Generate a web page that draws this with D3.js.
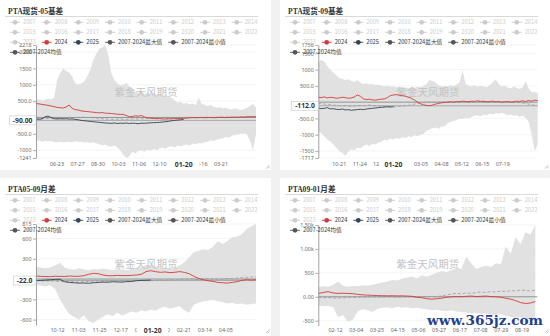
<!DOCTYPE html>
<html><head><meta charset="utf-8">
<script src="https://cdn.jsdelivr.net/npm/d3@7"></script>
<style>
html,body{margin:0;padding:0;background:#f1f1f1;}
svg{display:block}
text{font-family:"Noto Sans","Noto Sans CJK SC",sans-serif;}
</style></head><body>
<svg id="c" width="550" height="336"></svg>
<script>
// ---------- shared legend ----------
const legendYears = ["2007","2008","2009","2010","2011","2012","2013","2014","2015","2016","2017","2018","2019","2020","2021","2022","2023"];
const legendActive = ["2024","2025","2007-2024最大值","2007-2024最小值","2007-2024均值"];
const STEP = 5; // days between stored points

// ---------- panel 1 : PTA现货-05基差 ----------
const p1Title = "PTA现货-05基差";
const p1Start = "2023-05-20", p1Days = 366;
const p1XTicks = ["06-23","07-27","08-30","10-03","11-06","12-10","01-13","02-16","03-21"];
const p1YTicks = [2218,2000,1500,1000,500,-500,-1000,-1241];
const p1YLabels = ["2218","2000","1500","1000","500.0","-500.0","-1000","-1241"];
const p1YDomain = [-1241,2218];
const p1PointerX = "01-20", p1PointerY = -90, p1PointerYLabel = "-90.00";
const p1Max = [550,560,520,540,580,560,600,1150,1350,1500, 1420,1380,1250,1050,1000,1050,1100,1250,1450,1750, 1950,2100,2150,2218,1900,1350,1150,1050,980,1000, 1060,950,820,780,750,800,720,760,700,740, 680,720,650,700,620,600,520,450,480,420, 440,400,430,380,600,420,380,350,380,330, 300,320,280,300,260,240,280,250,230,260, 300,350,420,300];
const p1Min = [-720,-700,-740,-710,-730,-720,-750, -760,-740,-770,-750,-740,-760,-730, -750,-740,-770,-760,-780,-750,-790, -820,-850,-830,-880,-900,-860,-920, -1000,-1150,-1241,-1180,-1050,-1100,-1020, -1000,-1050,-980,-1020,-960,-1000,-940, -920,-960,-900,-880,-920,-860,-880, -850,-830,-860,-800,-820,-780,-800, -760,-740,-700,-720,-680,-650,-640, -600,-620,-560,-540,-520,-500,-480, -520,-700,-1000,-500];
const p1Y2024 = [430,415,400,385,370,350,330,310,300,290, 320,380,280,240,230,200,190,180,170,160, 150,140,150,130,130,120,110,100,95,90, 60,20,30,50,40,60,10,-10,-20,-30, -40,-35,-45,-50,-40,-45,-30,-35,-30,-25, -20,-10,-5,-10,-5,0,-10,-5,0,-10, -5,5,0,-5,5,0,10,5,15,10, 20,25,20,25];
const p1Y2025 = [-50,-55,-45,20,40,0,-40,-45,-40,-45, -40,-50,-45,-60,-70,-90,-100,-110,-120,-130, -140,-150,-160,-170,-175,-180,-170,-185,-175,-180, -170,-185,-175,-180,-190,-175,-180,-170,-165,-160, -155,-150,-140,-130,-120,-100,-90,-80,-70,-60];
const p1Mean = [-40,-35,-30,-35,-30,-25,-20,-30,-25,-20, -10,-15,-20,-10,-5,0,5,0,-5,-10, -20,-30,-40,-50,-45,-55,-60,-50,-45,-60, -55,-50,-45,-40,-50,-45,-40,-35,-30,-35, -30,-25,-20,-25,-30,-20,-15,-20,-10,-15, -5,-10,0,-5,5,0,10,5,0,5, 10,5,10,15,10,20,15,10,15,20, 25,20,15,20];

// ---------- panel 2 : PTA现货-09基差 ----------
const p2Title = "PTA现货-09基差";
const p2Start = "2023-09-17", p2Days = 366;
const p2XTicks = ["10-21","11-24","12-28","01-31","03-05","04-08","05-12","06-15","07-19"];
const p2YTicks = [1756,1500,1000,500,-500,-1000,-1500,-1717];
const p2YLabels = ["1756","1500","1000","500.0","-500.0","-1000","-1500","-1717"];
const p2YDomain = [-1717,1756];
const p2PointerX = "01-20", p2PointerY = -112, p2PointerYLabel = "-112.0";
const p2Max = [1200,1300,1250,1100,1000,900,820,740,720,680, 700,650,620,680,600,560,580,540,560,520, 540,500,480,510,470,490,450,480,440,460, 430,470,440,480,460,500,560,680,650,600, 520,480,500,470,520,490,540,600,980,560, 500,480,520,470,500,480,460,520,600,700, 560,480,500,450,420,480,440,400,460,650, 420,300,320,280];
const p2Min = [-900,-950,-1050,-1150,-1200,-1300,-1400,-1500,-1560,-1650, -1520,-1450,-1480,-1400,-1420,-1350,-1300,-1350,-1280,-1300, -1250,-1220,-1150,-1180,-1120,-1150,-1100,-1130,-1080,-1100, -1050,-1080,-1020,-1050,-1000,-980,-880,-850,-800,-780, -820,-760,-740,-650,-600,-580,-560,-500,-520,-480, -500,-460,-420,-400,-440,-380,-400,-360,-380,-340, -360,-330,-360,-400,-380,-420,-400,-450,-420,-480, -600,-1000,-1500,-1300];
const p2Y2024 = [150,140,160,130,150,140,120,130,150,140, 120,130,160,220,180,100,80,90,70,60, 80,90,100,140,200,220,230,210,200,180, 150,120,60,0,-50,-80,-100,-110,-90,-60, -40,-20,-10,0,10,-5,20,10,30,20, 10,30,20,40,20,30,10,20,30,10, 20,0,10,20,0,10,30,20,40,20, 50,30,60,50];
const p2Y2025 = [-180,-200,-190,-170,-210,-200,-220,-230,-210,-240,-230,-250,-240,-230,-220,-230,-210,-200,-190,-180,-170,-160,-150,-140,-150,-140];
const p2Mean = [-40,-50,-60,-70,-80,-90,-100,-110,-120,-110, -120,-130,-120,-110,-100,-110,-100,-90,-100,-110, -120,-130,-140,-150,-140,-150,-140,-130,-120,-110, -100,-80,-60,-40,-30,-20,-10,0,0,-10, 0,10,0,-5,0,5,0,10,0,5, 0,-5,0,5,10,0,5,0,-5,0, 5,0,-10,0,-5,-10,-20,-15,-30,-40, -60,-80,-100,-90];

// ---------- panel 3 : PTA05-09月差 ----------
const p3Title = "PTA05-09月差";
const p3Start = "2023-09-20", p3Days = 231;
const p3XTicks = ["10-12","11-03","11-25","12-17","01-08","01-30","02-21","03-14","04-05"];
const p3YTicks = [815,600,300,-300,-600];
const p3YLabels = ["815","600","300","-300","-600"];
const p3YDomain = [-680,815];
const p3PointerX = "01-20", p3PointerY = -22, p3PointerYLabel = "-22.0";
const p3Max = [180,170,160,175,200,240,170,150,140,160, 145,130,150,140,155,145,130,150,140,130, 150,160,170,210,200,180,160,170,150,170, 200,250,320,400,420,440,430,480,560,520, 560,620,630,660,740,780,815];
const p3Min = [-80,-100,-110,-90,-150,-300,-420,-520,-560,-600, -540,-620,-650,-600,-560,-520,-550,-500,-540,-510, -480,-500,-460,-480,-450,-470,-430,-410,-440,-420, -400,-460,-500,-380,-350,-330,-320,-310,-330,-340, -360,-350,-370,-360,-380,-370,-360];
const p3Y2024 = [45,40,38,35,42,40,38,45,40,42, 50,70,85,80,60,50,48,55,50,52, 55,60,70,110,124,110,100,105,95,100, 110,100,80,40,10,-10,-25,-35,-50,-55, -60,-50,-40,-20,-10,-15,-10];
const p3Y2025 = [-24,-20,-15,-10,-5,-3,-40,-50,-55,-60,-58,-62,-55,-50,-45,-47,-40,-42,-45,-38,-35,-25,-20,-18,-15];
const p3Mean = [-20,-25,-30,-25,-30,-35,-40,-35,-40,-45, -40,-35,-40,-30,-35,-30,-25,-30,-25,-20, -25,-20,-15,-20,-25,-20,-15,-20,-10,-15, -5,0,5,0,-5,0,5,0,-5,0, 10,5,15,20,25,30,35];

// ---------- panel 4 : PTA09-01月差 ----------
const p4Title = "PTA09-01月差";
const p4Start = "2024-01-26", p4Days = 223;
const p4XTicks = ["02-12","03-04","03-25","04-15","05-06","05-27","06-17","07-08","07-29","08-19"];
const p4YTicks = [1500,1000,500,0,-500];
const p4YLabels = ["1.50k","1.00k","500","0.00","-500"];
const p4YDomain = [-600,1500];
const p4PointerX = null, p4PointerY = null, p4PointerYLabel = null;
const p4Max = [200,220,210,250,320,230,210,230,220,240, 230,250,280,300,320,350,340,380,400,430, 380,450,420,460,500,540,520,560,600,580, 840,700,580,620,650,620,700,680,1050,900, 1250,1100,1350,1300,1500];
const p4Min = [-180,-200,-190,-220,-420,-380,-520,-480,-300,-260, -280,-320,-250,-230,-220,-240,-210,-230,-220,-240, -230,-250,-260,-280,-270,-290,-300,-280,-310,-320, -330,-350,-340,-360,-350,-370,-380,-360,-400,-420, -440,-430,-480,-460,-500];
const p4Y2024 = [70,90,107,80,70,75,70,65,50,40, 35,30,25,22,20,22,18,20,15,10, -10,-20,-40,-50,-40,-30,-10,0,5,0, 10,15,5,10,15,5,0,-10,-30,-50, -80,-120,-140,-130,-100];
const p4Y2025 = [];
const p4Mean = [-10,-20,-15,-25,-30,-20,-15,-10,-15,-5, -10,0,-5,0,5,0,-5,0,5,0, -5,0,5,10,0,20,40,60,70,60, 80,70,90,100,90,110,100,120,110,130, 120,140,130,120,140];

const watermark = "紫金天风期货";
const siteMark = "www.365jz.com";

// ---------- colours ----------
const C2024 = "#d23a3a", C2025 = "#2f4554", CGREY = "#555", CBAND = "#e1e1e1", CINACT = "#cccccc";

const panels = [
 {title:p1Title,start:p1Start,days:p1Days,xt:p1XTicks,yt:p1YTicks,yl:p1YLabels,yd:p1YDomain,px:p1PointerX,py:p1PointerY,pyl:p1PointerYLabel,max:p1Max,min:p1Min,a:p1Y2024,b:p1Y2025,mean:p1Mean,
  L:{ox:0,oy:0,w:271,h:170,x0:36,x1:256,y0:45,y1:158,xl:166,wmY:93,pb:[15,15.5]}},
 {title:p2Title,start:p2Start,days:p2Days,xt:p2XTicks,yt:p2YTicks,yl:p2YLabels,yd:p2YDomain,px:p2PointerX,py:p2PointerY,pyl:p2PointerYLabel,max:p2Max,min:p2Min,a:p2Y2024,b:p2Y2025,mean:p2Mean,
  L:{ox:280,oy:0,w:270,h:170,x0:38.3,x1:257.7,y0:45,y1:158,xl:166,wmY:93,pb:[14.5,15]}},
 {title:p3Title,start:p3Start,days:p3Days,xt:p3XTicks,yt:p3YTicks,yl:p3YLabels,yd:p3YDomain,px:p3PointerX,py:p3PointerY,pyl:p3PointerYLabel,max:p3Max,min:p3Min,a:p3Y2024,b:p3Y2025,mean:p3Mean,
  L:{ox:0,oy:178,w:271,h:158,x0:36,x1:256,y0:46,y1:147,xl:154,wmY:87,pb:[16,15.5]}},
 {title:p4Title,start:p4Start,days:p4Days,xt:p4XTicks,yt:p4YTicks,yl:p4YLabels,yd:p4YDomain,px:p4PointerX,py:p4PointerY,pyl:p4PointerYLabel,max:p4Max,min:p4Min,a:p4Y2024,b:p4Y2025,mean:p4Mean,
  L:{ox:280,oy:178,w:270,h:158,x0:38.3,x1:257.3,y0:47,y1:147.5,xl:154,wmY:87,pb:[15,15]}}
];

const svg = d3.select("#c");
svg.append("rect").attr("width",550).attr("height",336).attr("fill","#f1f1f1");
const parseD = d3.timeParse("%Y-%m-%d"), fmtMD = d3.timeFormat("%m-%d");
function categories(start,n){const s=parseD(start);return d3.range(n).map(i=>fmtMD(d3.timeDay.offset(s,i)));}

panels.forEach((p,pi)=>{
  const L=p.L;
  const g=svg.append("g").attr("transform",`translate(${L.ox},${L.oy})`);
  g.append("rect").attr("width",L.w).attr("height",L.h).attr("fill","#fff");
  // title
  g.append("text").attr("x",8).attr("y",14).text(p.title)
    .style("font-family",'"Liberation Serif","DejaVu Serif","Noto Sans CJK SC",serif')
    .attr("font-weight","bold").attr("font-size",7.6).attr("fill","#333");
  g.append("line").attr("x1",5).attr("x2",258).attr("y1",16.5).attr("y2",16.5).attr("stroke","#cfcfcf").attr("stroke-width",0.8);

  const cats=categories(p.start,p.days);
  const x=d3.scaleLinear().domain([0,p.days-1]).range([L.x0,L.x1]);
  const y=d3.scaleLinear().domain(p.yd).range([L.y1,L.y0]);
  const xi=i=>x(i*STEP);

  // grid
  g.append("g").selectAll("line").data(p.yt).join("line")
    .attr("x1",L.x0).attr("x2",L.x1).attr("y1",d=>y(d)).attr("y2",d=>y(d))
    .attr("stroke","#ececec").attr("stroke-width",0.6);

  // band
  const idx=d3.range(Math.min(p.max.length,p.min.length));
  g.append("path").datum(idx)
    .attr("d",d3.area().x(i=>xi(i)).y0(i=>y(p.min[i])).y1(i=>y(p.max[i])))
    .attr("fill",CBAND);

  // watermark
  g.append("text").attr("x",(L.x0+L.x1)/2).attr("y",L.wmY).attr("text-anchor","middle")
    .attr("dominant-baseline","middle").attr("font-size",10.5).attr("fill","#c4c4c4")
    .style("font-family",'"Noto Sans CJK SC",sans-serif').text(watermark);

  // zero axis line
  if(p.yd[0]<0) g.append("line").attr("x1",L.x0).attr("x2",L.x1).attr("y1",y(0)).attr("y2",y(0))
    .attr("stroke","#8a8a8a").attr("stroke-width",0.9);
  // pointer line
  if(p.py!==null) g.append("line").attr("x1",L.x0).attr("x2",L.x1).attr("y1",y(p.py)).attr("y2",y(p.py))
    .attr("stroke","#9a9a9a").attr("stroke-width",0.8);

  const line=arr=>d3.line().x((d,i)=>xi(i)).y(d=>y(d))(arr);
  g.append("path").attr("d",line(p.mean)).attr("fill","none").attr("stroke","#9a9a9a")
    .attr("stroke-width",0.8).attr("stroke-dasharray","3,2");
  g.append("path").attr("d",line(p.a)).attr("fill","none").attr("stroke",C2024).attr("stroke-width",0.9);
  if(p.b.length) g.append("path").attr("d",line(p.b)).attr("fill","none").attr("stroke",C2025).attr("stroke-width",0.9);

  // y axis
  const ya=g.append("g").attr("transform",`translate(${L.x0},0)`)
    .call(d3.axisLeft(y).tickValues(p.yt).tickFormat((d,i)=>p.yl[i]).tickSize(3).tickSizeOuter(0).tickPadding(1.5));
  ya.select(".domain").attr("stroke","#8a8a8a").attr("stroke-width",0.8);
  ya.selectAll(".tick line").attr("stroke","#8a8a8a").attr("stroke-width",0.7);
  ya.selectAll("text").attr("font-size",5.4).attr("fill","#666").style("font-family",'"Noto Sans",sans-serif');

  // x axis labels
  const xa=g.append("g").attr("transform",`translate(0,${L.xl-3.9})`)
    .call(d3.axisBottom(x).tickValues(p.xt.map(l=>cats.indexOf(l))).tickFormat(i=>cats[i]).tickSize(0).tickPadding(0));
  xa.select(".domain").remove();
  xa.selectAll("text").attr("font-size",5.4).attr("fill","#666").style("font-family",'"Noto Sans",sans-serif');

  // x pointer label
  if(p.px){
    const px=x(cats.indexOf(p.px));
    g.append("rect").attr("x",px-L.pb[0]).attr("y",L.xl-7).attr("width",L.pb[0]+L.pb[1]).attr("height",10).attr("fill","#fff");
    g.append("text").attr("x",px).attr("y",L.xl+0.5).attr("text-anchor","middle").attr("font-size",6.8)
      .attr("font-weight","bold").attr("fill","#333").text(p.px);
  }
  // y pointer label
  if(p.py!==null){
    const t=g.append("text").attr("font-size",6.8).attr("font-weight","bold").attr("fill","#333").text(p.pyl);
    const w=t.node().getComputedTextLength();
    const bx=L.x0-w-7, by=y(p.py)-4.5;
    g.insert("rect",()=>t.node()).attr("x",bx).attr("y",by).attr("width",w+7).attr("height",9)
      .attr("fill","#fff").attr("stroke","#c8c8c8").attr("stroke-width",0.6);
    t.attr("x",bx+3.5).attr("y",by+6.9);
  }

  // legend
  const lg=g.append("g");
  function item(cx,cy,label,col,active){
    lg.append("line").attr("x1",cx-5).attr("x2",cx+5).attr("y1",cy).attr("y2",cy).attr("stroke",col).attr("stroke-width",0.9);
    lg.append("circle").attr("cx",cx).attr("cy",cy).attr("r",2.4).attr("fill",col);
    lg.append("text").attr("x",cx+8).attr("y",cy+2).attr("font-size",5.7)
      .attr("fill",active?"#333":CINACT).style("font-family",'"Noto Sans CJK SC",sans-serif').text(label);
  }
  legendYears.forEach((yr,k)=>{
    const r=Math.floor(k/8), c=k%8;
    item(15+c*31.67,22.3+r*10,yr,CINACT,false);
  });
  item(46.7,42.3,legendActive[0],C2024,true);
  item(78.3,42.3,legendActive[1],C2025,true);
  item(110,42.3,legendActive[2],CGREY,true);
  item(173.3,42.3,legendActive[3],CGREY,true);
  item(15,52.3,legendActive[4],CGREY,true);

  // resize corner
  const cy=L.oy===0?167.5:154;
  g.append("path").attr("d",`M${L.w-5},${cy+1}L${L.w-1.5},${cy-2.5}M${L.w-3},${cy+1}L${L.w-1.5},${cy-0.5}`)
    .attr("stroke","#999").attr("stroke-width",0.6).attr("fill","none");
});

svg.append("text").attr("x",427).attr("y",325).attr("font-size",13).attr("font-weight","bold")
  .attr("textLength",116).attr("lengthAdjust","spacingAndGlyphs")
  .style("font-family",'"DejaVu Serif","Liberation Serif",serif').attr("fill","#1f3f8f").text(siteMark);
</script>
</body></html>
